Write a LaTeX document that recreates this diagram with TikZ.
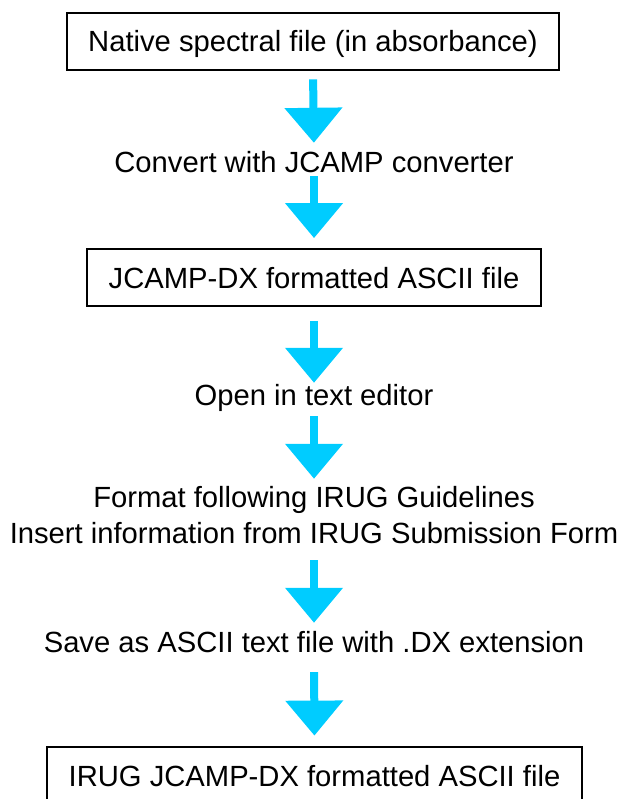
\documentclass[tikz,border=0pt]{standalone}
\usepackage{fontspec}
\setmainfont{Liberation Sans}
\usetikzlibrary{arrows.meta}
\definecolor{flowcyan}{RGB}{0,204,255}

\begin{document}
\begin{tikzpicture}[x=1pt,y=-1pt,
  filebox/.style={draw,line width=1.8pt,inner sep=0pt,minimum height=57pt,
    text height=21pt,text depth=0pt,font=\fontsize{29.2}{35}\selectfont},
  steptext/.style={inner sep=0pt,text height=21pt,text depth=0pt,
    font=\fontsize{29.2}{35}\selectfont},
  flow/.style={flowcyan,line width=8pt,-{Triangle[width=56pt,length=35pt]}}]
%picture
\useasboundingbox (0,0) rectangle (620,799);
\clip (0,0) rectangle (620,799);
\node[filebox,minimum width=492pt] (native) at (313,41.5) {Native spectral file (in absorbance)};
\node[steptext] (convert) at (314,162) {Convert with JCAMP converter};
\node[filebox,minimum width=454pt] (jcamp) at (314,277.5) {JCAMP-DX formatted ASCII file};
\node[steptext] (open) at (314,395) {Open in text editor};
\node[steptext] (format) at (314,497) {Format following IRUG Guidelines};
\node[steptext] (insert) at (314,533) {Insert information from IRUG Submission Form};
\node[steptext] (save) at (314,642) {Save as ASCII text file with .DX extension};
\node[filebox,minimum width=535pt] (irug) at (314.5,775.5) {IRUG JCAMP-DX formatted ASCII file};
%arrows
\draw[flow,shorten <=8.5pt,shorten >=8.5pt] (native.south) -- (convert.north);
\draw[flow,shorten <=3.5pt,shorten >=10pt] (convert.south) -- (jcamp.north);
\draw[flow,shorten <=14pt,shorten >=1.5pt] (jcamp.south) -- (open.north);
\draw[flow,shorten <=10.5pt,shorten >=7.5pt] (open.south) -- (format.north);
\draw[flow,shorten <=16.5pt,shorten >=8.5pt] (insert.south) -- (save.north);
\draw[flow,shorten <=19.5pt,shorten >=10.5pt] (save.south) -- (irug.north);
\end{tikzpicture}
\end{document}
